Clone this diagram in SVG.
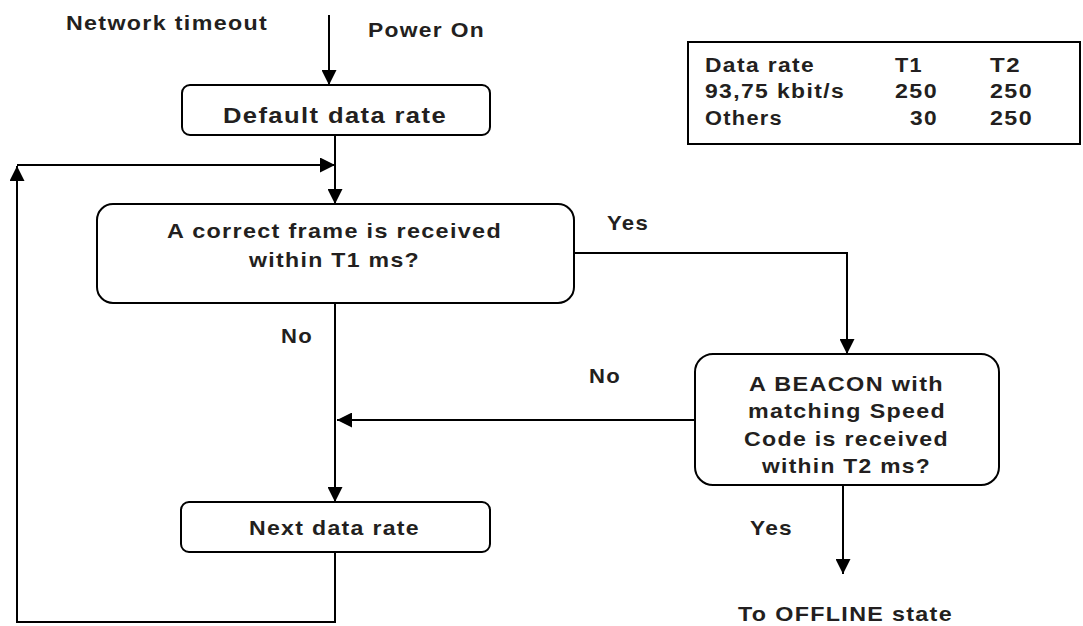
<svg xmlns="http://www.w3.org/2000/svg" width="1083" height="626" viewBox="0 0 1083 626">
<defs>
<marker id="ah" markerUnits="userSpaceOnUse" markerWidth="15" markerHeight="15" refX="15" refY="7.5" orient="auto">
<path d="M0,0 L15,7.5 L0,15 z" fill="#000"/>
</marker>
<style>
.t{font-family:"Liberation Sans",Arial,sans-serif;font-weight:bold;font-size:21px;letter-spacing:1.2px;fill:#231f20}
.tb{font-family:"Liberation Sans",Arial,sans-serif;font-weight:bold;font-size:20px;letter-spacing:1.2px;fill:#231f20}
.box{fill:#fff;stroke:#000;stroke-width:2}
.c{fill:none;stroke:#000;stroke-width:2;marker-end:url(#ah)}
</style>
</defs>
<rect width="1083" height="626" fill="#fff"/>
<g id="connectors">
<path class="c" d="M329,15 V85"/>
<path class="c" d="M335,135 V204"/>
<path class="c" d="M335,552 V622 H17 V166"/>
<path class="c" d="M17,165 H335"/>
<path class="c" d="M574,253 H847 V354"/>
<path class="c" d="M335,303 V502"/>
<path class="c" d="M695,420 H337"/>
<path class="c" d="M843,485 V574"/>
</g>
<g id="labels">
<text class="t" x="66" y="30" textLength="202" lengthAdjust="spacingAndGlyphs">Network timeout</text>
<text class="t" x="368" y="37" textLength="117" lengthAdjust="spacingAndGlyphs">Power On</text>
<text class="t" x="607" y="230" textLength="42" lengthAdjust="spacingAndGlyphs">Yes</text>
<text class="t" x="281" y="343" textLength="32" lengthAdjust="spacingAndGlyphs">No</text>
<text class="t" x="589" y="383" textLength="32" lengthAdjust="spacingAndGlyphs">No</text>
<text class="t" x="750" y="535" textLength="43" lengthAdjust="spacingAndGlyphs">Yes</text>
<text class="t" x="738" y="621" textLength="215" lengthAdjust="spacingAndGlyphs">To OFFLINE state</text>
</g>
<g id="default-rate">
<rect class="box" x="182" y="85" width="308" height="50" rx="8"/>
<text class="t" style="font-size:22px" x="223" y="123" textLength="224" lengthAdjust="spacingAndGlyphs">Default data rate</text>
</g>
<g id="decision-frame">
<rect class="box" x="97" y="204" width="477" height="99" rx="16"/>
<text class="t" x="167" y="238" textLength="335" lengthAdjust="spacingAndGlyphs">A correct frame is received</text>
<text class="t" x="249" y="267" textLength="171" lengthAdjust="spacingAndGlyphs">within T1 ms?</text>
</g>
<g id="decision-beacon">
<rect class="box" x="695" y="354" width="304" height="131" rx="18"/>
<text class="t" x="749" y="391" textLength="195" lengthAdjust="spacingAndGlyphs">A BEACON with</text>
<text class="t" x="748" y="418" textLength="198" lengthAdjust="spacingAndGlyphs">matching Speed</text>
<text class="t" x="744" y="446" textLength="205" lengthAdjust="spacingAndGlyphs">Code is received</text>
<text class="t" x="762" y="473" textLength="169" lengthAdjust="spacingAndGlyphs">within T2 ms?</text>
</g>
<g id="next-rate">
<rect class="box" x="181" y="502" width="309" height="50" rx="8"/>
<text class="t" x="249" y="535" textLength="171" lengthAdjust="spacingAndGlyphs">Next data rate</text>
</g>
<g id="timing-table">
<rect class="box" x="688" y="42" width="392" height="102"/>
<text class="tb" x="705" y="72" textLength="110" lengthAdjust="spacingAndGlyphs">Data rate</text>
<text class="tb" x="895" y="72" textLength="28" lengthAdjust="spacingAndGlyphs">T1</text>
<text class="tb" x="990" y="72" textLength="31" lengthAdjust="spacingAndGlyphs">T2</text>
<text class="tb" x="705" y="98" textLength="140" lengthAdjust="spacingAndGlyphs">93,75 kbit/s</text>
<text class="tb" x="895" y="98" textLength="43" lengthAdjust="spacingAndGlyphs">250</text>
<text class="tb" x="990" y="98" textLength="43" lengthAdjust="spacingAndGlyphs">250</text>
<text class="tb" x="705" y="125" textLength="78" lengthAdjust="spacingAndGlyphs">Others</text>
<text class="tb" x="910" y="125" textLength="28" lengthAdjust="spacingAndGlyphs">30</text>
<text class="tb" x="990" y="125" textLength="43" lengthAdjust="spacingAndGlyphs">250</text>
</g>
</svg>
